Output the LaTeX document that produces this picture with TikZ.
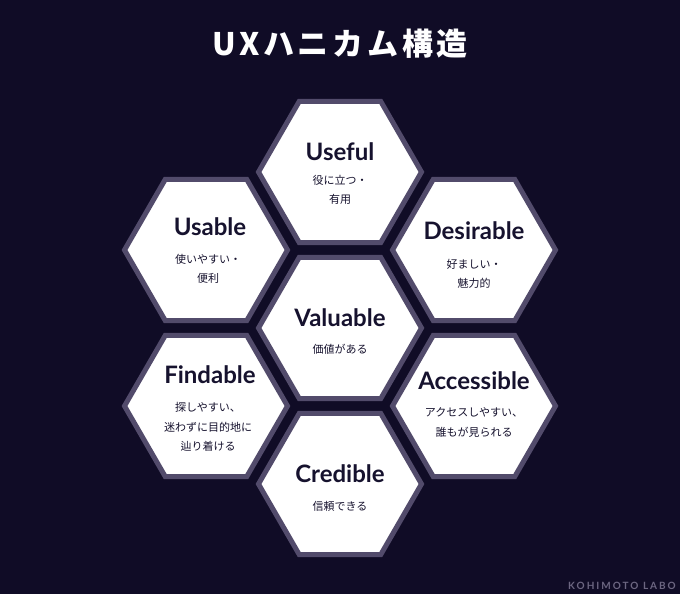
\documentclass[tikz,border=0pt]{standalone}
\usepackage{fontspec}
\setmainfont{Lato}
\newfontfamily\jpfont{Noto Sans CJK JP}
\newfontfamily\jpheadfont[LetterSpace=12]{Noto Sans CJK JP}
\newfontfamily\markfont[LetterSpace=20]{Lato}
\usepackage{tikz}
\usetikzlibrary{shapes.geometric}
\definecolor{bgnavy}{HTML}{100C26}
\definecolor{hexline}{HTML}{524B6B}
\definecolor{inknavy}{HTML}{16122E}

\begin{document}
\begin{tikzpicture}[x=1pt,y=1pt,
  hexa/.style={regular polygon,regular polygon sides=6,minimum size=163pt,inner sep=0pt,
    fill=white,draw=hexline,line width=5pt},
  ttl/.style={text=inknavy,font=\fontsize{24}{28}\selectfont\bfseries},
  sub/.style={text=inknavy,align=center,font=\jpfont\fontsize{11}{19.2}\selectfont}]
% Background
\fill[bgnavy] (0,0) rectangle (680,594);
\useasboundingbox (0,0) rectangle (680,594);
\node[text=white,font=\jpheadfont\bfseries\fontsize{31}{36}\selectfont] (head) at (340,550) {UXハニカム構造};
% Honeycomb
\node[hexa] (use) at (340,422) {};
\node[hexa] (usa) at (206,344) {};
\node[hexa] (des) at (474,344) {};
\node[hexa] (val) at (340,266) {};
\node[hexa] (fin) at (206,188) {};
\node[hexa] (acc) at (474,188) {};
\node[hexa] (cre) at (340,110) {};
% Labels
\node[ttl] (usettl) at ([yshift=20pt]use.center) {Useful};
\node[sub] (usesub) at ([yshift=-18pt]use.center) {役に立つ・\\有用};
\node[ttl] (usattl) at ([xshift=4pt,yshift=23pt]usa.center) {Usable};
\node[sub] (usasub) at ([xshift=2pt,yshift=-18.5pt]usa.center) {使いやすい・\\便利};
\node[ttl] (desttl) at ([yshift=19pt]des.center) {Desirable};
\node[sub] (dessub) at ([yshift=-24pt]des.center) {好ましい・\\魅力的};
\node[ttl] (valttl) at ([yshift=10pt]val.center) {Valuable};
\node[sub] (valsub) at ([yshift=-21pt]val.center) {価値がある};
\node[ttl] (finttl) at ([xshift=4pt,yshift=31pt]fin.center) {Findable};
\node[sub] (finsub) at ([xshift=2pt,yshift=-21pt]fin.center) {探しやすい、\\迷わずに目的地に\\辿り着ける};
\node[ttl] (accttl) at ([yshift=25pt]acc.center) {Accessible};
\node[sub] (accsub) at ([yshift=-16.5pt]acc.center) {アクセスしやすい、\\誰もが見られる};
\node[ttl] (crettl) at ([yshift=10pt]cre.center) {Credible};
\node[sub] (cresub) at ([yshift=-22pt]cre.center) {信頼できる};
% Watermark
\node[text=hexline!85,font=\markfont\bfseries\fontsize{10}{12}\selectfont] (mark) at (622,8) {KOHIMOTO LABO};
\end{tikzpicture}
\end{document}
